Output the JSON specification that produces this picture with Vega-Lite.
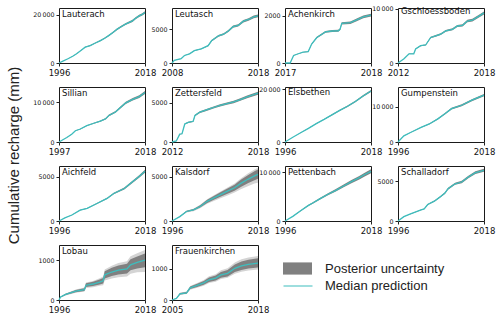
{
"$schema":"https://vega.github.io/schema/vega-lite/v6.json",
"padding":{"left":5,"top":5,"right":0,"bottom":0},
"data":{"values":[
{"s":"Lauterach","t":1996,"m":0,"lo":0,"hi":0},
{"s":"Lauterach","t":1997,"m":800,"lo":780,"hi":820},
{"s":"Lauterach","t":1998.3,"m":1780,"lo":1735,"hi":1825},
{"s":"Lauterach","t":1999.5,"m":2800,"lo":2730,"hi":2870},
{"s":"Lauterach","t":2000.5,"m":3840,"lo":3745,"hi":3935},
{"s":"Lauterach","t":2001.6,"m":5200,"lo":5070,"hi":5330},
{"s":"Lauterach","t":2002.7,"m":6580,"lo":6415,"hi":6745},
{"s":"Lauterach","t":2004,"m":7260,"lo":7080,"hi":7440},
{"s":"Lauterach","t":2005.3,"m":8300,"lo":8090,"hi":8510},
{"s":"Lauterach","t":2006.6,"m":9320,"lo":9090,"hi":9550},
{"s":"Lauterach","t":2007.7,"m":10300,"lo":10040,"hi":10560},
{"s":"Lauterach","t":2008.7,"m":11370,"lo":11085,"hi":11655},
{"s":"Lauterach","t":2009.8,"m":12700,"lo":12380,"hi":13020},
{"s":"Lauterach","t":2010.9,"m":14100,"lo":13750,"hi":14450},
{"s":"Lauterach","t":2012,"m":15200,"lo":14820,"hi":15580},
{"s":"Lauterach","t":2013,"m":16160,"lo":15760,"hi":16560},
{"s":"Lauterach","t":2014.8,"m":17530,"lo":17090,"hi":17970},
{"s":"Lauterach","t":2015.6,"m":18600,"lo":18135,"hi":19065},
{"s":"Lauterach","t":2016.5,"m":19590,"lo":19100,"hi":20080},
{"s":"Lauterach","t":2017.3,"m":20200,"lo":19695,"hi":20705},
{"s":"Lauterach","t":2018,"m":20960,"lo":20435,"hi":21485},
{"s":"Leutasch","t":2008,"m":0,"lo":0,"hi":0},
{"s":"Leutasch","t":2008.27,"m":390,"lo":378,"hi":402},
{"s":"Leutasch","t":2009.06,"m":630,"lo":611,"hi":649},
{"s":"Leutasch","t":2009.45,"m":1120,"lo":1086,"hi":1154},
{"s":"Leutasch","t":2010.04,"m":1360,"lo":1319,"hi":1401},
{"s":"Leutasch","t":2010.6,"m":1840,"lo":1785,"hi":1895},
{"s":"Leutasch","t":2011.4,"m":2090,"lo":2027,"hi":2153},
{"s":"Leutasch","t":2012.2,"m":2570,"lo":2493,"hi":2647},
{"s":"Leutasch","t":2012.6,"m":3300,"lo":3201,"hi":3399},
{"s":"Leutasch","t":2013.4,"m":4030,"lo":3909,"hi":4151},
{"s":"Leutasch","t":2014,"m":4270,"lo":4142,"hi":4398},
{"s":"Leutasch","t":2014.55,"m":4760,"lo":4617,"hi":4903},
{"s":"Leutasch","t":2015.1,"m":5390,"lo":5228,"hi":5552},
{"s":"Leutasch","t":2015.7,"m":5580,"lo":5413,"hi":5747},
{"s":"Leutasch","t":2016.3,"m":6210,"lo":6024,"hi":6396},
{"s":"Leutasch","t":2016.9,"m":6460,"lo":6266,"hi":6654},
{"s":"Leutasch","t":2017.5,"m":6850,"lo":6645,"hi":7055},
{"s":"Leutasch","t":2018,"m":7000,"lo":6790,"hi":7210},
{"s":"Achenkirch","t":2017,"m":0,"lo":0,"hi":0},
{"s":"Achenkirch","t":2017.06,"m":0,"lo":0,"hi":0},
{"s":"Achenkirch","t":2017.1,"m":320,"lo":310,"hi":330},
{"s":"Achenkirch","t":2017.155,"m":390,"lo":378,"hi":402},
{"s":"Achenkirch","t":2017.21,"m":455,"lo":441,"hi":469},
{"s":"Achenkirch","t":2017.27,"m":480,"lo":466,"hi":494},
{"s":"Achenkirch","t":2017.31,"m":800,"lo":776,"hi":824},
{"s":"Achenkirch","t":2017.37,"m":1075,"lo":1043,"hi":1107},
{"s":"Achenkirch","t":2017.43,"m":1215,"lo":1179,"hi":1251},
{"s":"Achenkirch","t":2017.47,"m":1310,"lo":1271,"hi":1349},
{"s":"Achenkirch","t":2017.55,"m":1350,"lo":1310,"hi":1390},
{"s":"Achenkirch","t":2017.62,"m":1360,"lo":1319,"hi":1401},
{"s":"Achenkirch","t":2017.64,"m":1420,"lo":1377,"hi":1463},
{"s":"Achenkirch","t":2017.66,"m":1670,"lo":1620,"hi":1720},
{"s":"Achenkirch","t":2017.76,"m":1700,"lo":1649,"hi":1751},
{"s":"Achenkirch","t":2017.84,"m":1830,"lo":1775,"hi":1885},
{"s":"Achenkirch","t":2017.91,"m":1945,"lo":1887,"hi":2003},
{"s":"Achenkirch","t":2018,"m":2020,"lo":1959,"hi":2081},
{"s":"Gschloessboden","t":2012,"m":0,"lo":0,"hi":0},
{"s":"Gschloessboden","t":2012.42,"m":790,"lo":766,"hi":814},
{"s":"Gschloessboden","t":2012.77,"m":1700,"lo":1649,"hi":1751},
{"s":"Gschloessboden","t":2013.1,"m":1700,"lo":1649,"hi":1751},
{"s":"Gschloessboden","t":2013.23,"m":2600,"lo":2522,"hi":2678},
{"s":"Gschloessboden","t":2013.58,"m":3200,"lo":3104,"hi":3296},
{"s":"Gschloessboden","t":2013.93,"m":3330,"lo":3230,"hi":3430},
{"s":"Gschloessboden","t":2014.28,"m":4730,"lo":4588,"hi":4872},
{"s":"Gschloessboden","t":2014.63,"m":5030,"lo":4879,"hi":5181},
{"s":"Gschloessboden","t":2014.98,"m":5330,"lo":5170,"hi":5490},
{"s":"Gschloessboden","t":2015.33,"m":5940,"lo":5762,"hi":6118},
{"s":"Gschloessboden","t":2015.8,"m":6240,"lo":6053,"hi":6427},
{"s":"Gschloessboden","t":2016.14,"m":6850,"lo":6645,"hi":7055},
{"s":"Gschloessboden","t":2016.5,"m":6970,"lo":6761,"hi":7179},
{"s":"Gschloessboden","t":2016.84,"m":7760,"lo":7527,"hi":7993},
{"s":"Gschloessboden","t":2017.19,"m":7940,"lo":7702,"hi":8178},
{"s":"Gschloessboden","t":2017.65,"m":8670,"lo":8410,"hi":8930},
{"s":"Gschloessboden","t":2018,"m":9270,"lo":8992,"hi":9548},
{"s":"Sillian","t":1997,"m":0,"lo":0,"hi":0},
{"s":"Sillian","t":1998.9,"m":1120,"lo":1086,"hi":1154},
{"s":"Sillian","t":2000.1,"m":1980,"lo":1921,"hi":2039},
{"s":"Sillian","t":2001,"m":2850,"lo":2765,"hi":2935},
{"s":"Sillian","t":2002.2,"m":3280,"lo":3182,"hi":3378},
{"s":"Sillian","t":2003.8,"m":4140,"lo":4016,"hi":4264},
{"s":"Sillian","t":2005.5,"m":4740,"lo":4598,"hi":4882},
{"s":"Sillian","t":2007.1,"m":5260,"lo":5102,"hi":5418},
{"s":"Sillian","t":2008.4,"m":5860,"lo":5684,"hi":6036},
{"s":"Sillian","t":2009.2,"m":6720,"lo":6518,"hi":6922},
{"s":"Sillian","t":2010.8,"m":7590,"lo":7362,"hi":7818},
{"s":"Sillian","t":2012,"m":8700,"lo":8439,"hi":8961},
{"s":"Sillian","t":2013.3,"m":9900,"lo":9603,"hi":10197},
{"s":"Sillian","t":2015,"m":10780,"lo":10457,"hi":11103},
{"s":"Sillian","t":2016.6,"m":11470,"lo":11126,"hi":11814},
{"s":"Sillian","t":2018,"m":12500,"lo":12125,"hi":12875},
{"s":"Zettersfeld","t":2012,"m":0,"lo":0,"hi":0},
{"s":"Zettersfeld","t":2012.3,"m":130,"lo":126,"hi":134},
{"s":"Zettersfeld","t":2012.54,"m":1000,"lo":970,"hi":1030},
{"s":"Zettersfeld","t":2012.7,"m":1050,"lo":1019,"hi":1081},
{"s":"Zettersfeld","t":2012.89,"m":2300,"lo":2231,"hi":2369},
{"s":"Zettersfeld","t":2013.13,"m":2520,"lo":2444,"hi":2596},
{"s":"Zettersfeld","t":2013.48,"m":2650,"lo":2571,"hi":2730},
{"s":"Zettersfeld","t":2013.6,"m":3390,"lo":3288,"hi":3492},
{"s":"Zettersfeld","t":2013.95,"m":3830,"lo":3715,"hi":3945},
{"s":"Zettersfeld","t":2014.3,"m":4040,"lo":3919,"hi":4161},
{"s":"Zettersfeld","t":2014.65,"m":4260,"lo":4132,"hi":4388},
{"s":"Zettersfeld","t":2015,"m":4480,"lo":4346,"hi":4614},
{"s":"Zettersfeld","t":2015.36,"m":4700,"lo":4559,"hi":4841},
{"s":"Zettersfeld","t":2015.83,"m":4910,"lo":4763,"hi":5057},
{"s":"Zettersfeld","t":2016.3,"m":5130,"lo":4976,"hi":5284},
{"s":"Zettersfeld","t":2016.77,"m":5430,"lo":5267,"hi":5593},
{"s":"Zettersfeld","t":2017.24,"m":5780,"lo":5607,"hi":5953},
{"s":"Zettersfeld","t":2018,"m":6250,"lo":6063,"hi":6438},
{"s":"Elsbethen","t":1996,"m":0,"lo":0,"hi":0},
{"s":"Elsbethen","t":1998,"m":1800,"lo":1764,"hi":1836},
{"s":"Elsbethen","t":2000,"m":3500,"lo":3430,"hi":3570},
{"s":"Elsbethen","t":2002,"m":5200,"lo":5096,"hi":5304},
{"s":"Elsbethen","t":2004,"m":7000,"lo":6860,"hi":7140},
{"s":"Elsbethen","t":2006,"m":8600,"lo":8428,"hi":8772},
{"s":"Elsbethen","t":2008,"m":10300,"lo":10094,"hi":10506},
{"s":"Elsbethen","t":2010,"m":12000,"lo":11760,"hi":12240},
{"s":"Elsbethen","t":2012,"m":13600,"lo":13328,"hi":13872},
{"s":"Elsbethen","t":2014,"m":15400,"lo":15092,"hi":15708},
{"s":"Elsbethen","t":2016,"m":17500,"lo":17150,"hi":17850},
{"s":"Elsbethen","t":2018,"m":19400,"lo":19012,"hi":19788},
{"s":"Gumpenstein","t":1996,"m":0,"lo":0,"hi":0},
{"s":"Gumpenstein","t":1997.5,"m":1750,"lo":1706,"hi":1794},
{"s":"Gumpenstein","t":1999.2,"m":2720,"lo":2652,"hi":2788},
{"s":"Gumpenstein","t":2001.9,"m":4170,"lo":4066,"hi":4274},
{"s":"Gumpenstein","t":2004,"m":5150,"lo":5021,"hi":5279},
{"s":"Gumpenstein","t":2006.2,"m":6600,"lo":6435,"hi":6765},
{"s":"Gumpenstein","t":2008,"m":8060,"lo":7859,"hi":8261},
{"s":"Gumpenstein","t":2009.7,"m":9510,"lo":9272,"hi":9748},
{"s":"Gumpenstein","t":2012.3,"m":10490,"lo":10228,"hi":10752},
{"s":"Gumpenstein","t":2014.9,"m":11940,"lo":11642,"hi":12238},
{"s":"Gumpenstein","t":2018,"m":13400,"lo":13065,"hi":13735},
{"s":"Aichfeld","t":1996,"m":0,"lo":0,"hi":0},
{"s":"Aichfeld","t":1997.5,"m":350,"lo":340,"hi":360},
{"s":"Aichfeld","t":1999.3,"m":680,"lo":660,"hi":700},
{"s":"Aichfeld","t":2001.4,"m":1240,"lo":1203,"hi":1277},
{"s":"Aichfeld","t":2003.2,"m":1430,"lo":1387,"hi":1473},
{"s":"Aichfeld","t":2005.7,"m":1990,"lo":1930,"hi":2050},
{"s":"Aichfeld","t":2008.3,"m":2560,"lo":2483,"hi":2637},
{"s":"Aichfeld","t":2010,"m":3120,"lo":3026,"hi":3214},
{"s":"Aichfeld","t":2012.7,"m":3680,"lo":3570,"hi":3790},
{"s":"Aichfeld","t":2014.8,"m":4440,"lo":4307,"hi":4573},
{"s":"Aichfeld","t":2016.5,"m":5050,"lo":4899,"hi":5202},
{"s":"Aichfeld","t":2018,"m":5650,"lo":5481,"hi":5820},
{"s":"Kalsdorf","t":1996,"m":0,"lo":0,"hi":0,"l2":0,"h2":0},
{"s":"Kalsdorf","t":1998,"m":500,"lo":470,"hi":530,"l2":450,"h2":540},
{"s":"Kalsdorf","t":1999.7,"m":1080,"lo":1010,"hi":1150,"l2":970,"h2":1170},
{"s":"Kalsdorf","t":2001.5,"m":1270,"lo":1180,"hi":1370,"l2":1120,"h2":1400},
{"s":"Kalsdorf","t":2003.2,"m":1650,"lo":1520,"hi":1780,"l2":1450,"h2":1830},
{"s":"Kalsdorf","t":2005,"m":2230,"lo":2050,"hi":2420,"l2":1950,"h2":2480},
{"s":"Kalsdorf","t":2006.7,"m":2620,"lo":2400,"hi":2850,"l2":2280,"h2":2920},
{"s":"Kalsdorf","t":2008.4,"m":3000,"lo":2740,"hi":3270,"l2":2590,"h2":3360},
{"s":"Kalsdorf","t":2010.2,"m":3380,"lo":3080,"hi":3690,"l2":2900,"h2":3800},
{"s":"Kalsdorf","t":2012,"m":3770,"lo":3430,"hi":4120,"l2":3220,"h2":4250},
{"s":"Kalsdorf","t":2013.6,"m":4270,"lo":3870,"hi":4680,"l2":3600,"h2":4830},
{"s":"Kalsdorf","t":2015.4,"m":4730,"lo":4270,"hi":5200,"l2":3950,"h2":5380},
{"s":"Kalsdorf","t":2017.1,"m":5120,"lo":4620,"hi":5640,"l2":4250,"h2":5850},
{"s":"Kalsdorf","t":2018,"m":5300,"lo":4780,"hi":5850,"l2":4350,"h2":6050},
{"s":"Pettenbach","t":1996,"m":0,"lo":0,"hi":0},
{"s":"Pettenbach","t":1998,"m":950,"lo":912,"hi":988},
{"s":"Pettenbach","t":2000,"m":2100,"lo":2016,"hi":2184},
{"s":"Pettenbach","t":2002,"m":3200,"lo":3072,"hi":3328},
{"s":"Pettenbach","t":2003,"m":3650,"lo":3504,"hi":3796},
{"s":"Pettenbach","t":2005,"m":4600,"lo":4416,"hi":4784},
{"s":"Pettenbach","t":2007,"m":5500,"lo":5280,"hi":5720},
{"s":"Pettenbach","t":2009,"m":6300,"lo":6048,"hi":6552},
{"s":"Pettenbach","t":2011,"m":7200,"lo":6912,"hi":7488},
{"s":"Pettenbach","t":2013,"m":8100,"lo":7776,"hi":8424},
{"s":"Pettenbach","t":2015,"m":8900,"lo":8544,"hi":9256},
{"s":"Pettenbach","t":2016.5,"m":9600,"lo":9216,"hi":9984},
{"s":"Pettenbach","t":2018,"m":10200,"lo":9792,"hi":10608},
{"s":"Schalladorf","t":1996,"m":0,"lo":0,"hi":0},
{"s":"Schalladorf","t":1997.5,"m":550,"lo":534,"hi":567},
{"s":"Schalladorf","t":1999.2,"m":890,"lo":863,"hi":917},
{"s":"Schalladorf","t":2001.9,"m":1400,"lo":1358,"hi":1442},
{"s":"Schalladorf","t":2002.7,"m":1530,"lo":1484,"hi":1576},
{"s":"Schalladorf","t":2003.6,"m":2080,"lo":2018,"hi":2142},
{"s":"Schalladorf","t":2005.3,"m":2500,"lo":2425,"hi":2575},
{"s":"Schalladorf","t":2006.7,"m":3010,"lo":2920,"hi":3100},
{"s":"Schalladorf","t":2008,"m":3520,"lo":3414,"hi":3626},
{"s":"Schalladorf","t":2008.8,"m":4070,"lo":3948,"hi":4192},
{"s":"Schalladorf","t":2010.6,"m":4700,"lo":4559,"hi":4841},
{"s":"Schalladorf","t":2012.3,"m":4920,"lo":4772,"hi":5068},
{"s":"Schalladorf","t":2014,"m":5550,"lo":5384,"hi":5717},
{"s":"Schalladorf","t":2015.8,"m":6100,"lo":5917,"hi":6283},
{"s":"Schalladorf","t":2018,"m":6400,"lo":6208,"hi":6592},
{"s":"Lobau","t":1996,"m":0,"lo":0,"hi":0,"l2":0,"h2":0},
{"s":"Lobau","t":1996.4,"m":74,"lo":65,"hi":84,"l2":60,"h2":88},
{"s":"Lobau","t":1997.7,"m":140,"lo":125,"hi":158,"l2":115,"h2":165},
{"s":"Lobau","t":2000.3,"m":220,"lo":195,"hi":248,"l2":180,"h2":260},
{"s":"Lobau","t":2002.5,"m":260,"lo":228,"hi":295,"l2":210,"h2":310},
{"s":"Lobau","t":2002.9,"m":370,"lo":325,"hi":420,"l2":300,"h2":440},
{"s":"Lobau","t":2004.7,"m":400,"lo":350,"hi":455,"l2":320,"h2":478},
{"s":"Lobau","t":2006.4,"m":450,"lo":390,"hi":515,"l2":355,"h2":545},
{"s":"Lobau","t":2007.3,"m":480,"lo":412,"hi":550,"l2":372,"h2":585},
{"s":"Lobau","t":2007.7,"m":630,"lo":540,"hi":720,"l2":485,"h2":765},
{"s":"Lobau","t":2009.5,"m":700,"lo":598,"hi":805,"l2":535,"h2":860},
{"s":"Lobau","t":2011.2,"m":750,"lo":638,"hi":865,"l2":570,"h2":925},
{"s":"Lobau","t":2013.4,"m":780,"lo":660,"hi":905,"l2":585,"h2":970},
{"s":"Lobau","t":2014.3,"m":880,"lo":742,"hi":1020,"l2":655,"h2":1095},
{"s":"Lobau","t":2016,"m":940,"lo":790,"hi":1090,"l2":695,"h2":1170},
{"s":"Lobau","t":2018,"m":1000,"lo":820,"hi":1165,"l2":700,"h2":1250},
{"s":"Frauenkirchen","t":2005,"m":0,"lo":0,"hi":0,"l2":0,"h2":0},
{"s":"Frauenkirchen","t":2005.67,"m":53,"lo":45,"hi":60,"l2":40,"h2":65},
{"s":"Frauenkirchen","t":2006.2,"m":200,"lo":180,"hi":222,"l2":170,"h2":232},
{"s":"Frauenkirchen","t":2007.2,"m":230,"lo":205,"hi":256,"l2":192,"h2":270},
{"s":"Frauenkirchen","t":2007.75,"m":390,"lo":350,"hi":432,"l2":330,"h2":452},
{"s":"Frauenkirchen","t":2008.8,"m":470,"lo":420,"hi":522,"l2":395,"h2":550},
{"s":"Frauenkirchen","t":2009.8,"m":550,"lo":490,"hi":612,"l2":460,"h2":645},
{"s":"Frauenkirchen","t":2010.6,"m":650,"lo":578,"hi":725,"l2":545,"h2":765},
{"s":"Frauenkirchen","t":2011.6,"m":705,"lo":625,"hi":788,"l2":588,"h2":832},
{"s":"Frauenkirchen","t":2012.4,"m":810,"lo":718,"hi":905,"l2":675,"h2":955},
{"s":"Frauenkirchen","t":2013.4,"m":860,"lo":760,"hi":962,"l2":715,"h2":1018},
{"s":"Frauenkirchen","t":2014.5,"m":1020,"lo":900,"hi":1143,"l2":845,"h2":1210},
{"s":"Frauenkirchen","t":2015.5,"m":1100,"lo":968,"hi":1235,"l2":910,"h2":1310},
{"s":"Frauenkirchen","t":2016.55,"m":1150,"lo":1010,"hi":1293,"l2":950,"h2":1370},
{"s":"Frauenkirchen","t":2018,"m":1190,"lo":1045,"hi":1340,"l2":980,"h2":1420}
]},
"columns":4,
"spacing":{"row":24,"column":27},
"bounds":"flush",
"concat":[
{"width":86,"height":55,"title":"Lauterach","transform":[{"filter":"datum.s=='Lauterach'"}],"encoding":{"x":{"field":"t","type":"quantitative","title":null,"scale":{"domain":[1996,2018],"nice":false},"axis":{"values":[1996,2018]}}},"layer":[{"mark":{"type":"area","color":"#808080"},"encoding":{"y":{"field":"lo","type":"quantitative","scale":{"domain":[0,22860],"nice":false},"axis":{"values":[0,20000],"title":"Cumulative recharge (mm)","titleAngle":-90,"titleX":-46,"titleY":147,"titleAlign":"center","titleBaseline":"middle","titleFont":"Liberation Sans","titleFontSize":15,"titleFontWeight":"normal","titleColor":"#222"}},"y2":{"field":"hi"}}},{"mark":{"type":"line","color":"#3dbdbd","strokeWidth":1.3},"encoding":{"y":{"field":"m","type":"quantitative"}}}]},
{"width":86,"height":55,"title":"Leutasch","transform":[{"filter":"datum.s=='Leutasch'"}],"encoding":{"x":{"field":"t","type":"quantitative","title":null,"scale":{"domain":[2008,2018],"nice":false},"axis":{"values":[2008,2018]}}},"layer":[{"mark":{"type":"area","color":"#808080"},"encoding":{"y":{"field":"lo","type":"quantitative","title":null,"scale":{"domain":[0,8160],"nice":false},"axis":{"values":[0,5000]}},"y2":{"field":"hi"}}},{"mark":{"type":"line","color":"#3dbdbd","strokeWidth":1.3},"encoding":{"y":{"field":"m","type":"quantitative","title":null}}}]},
{"width":86,"height":55,"title":"Achenkirch","transform":[{"filter":"datum.s=='Achenkirch'"}],"encoding":{"x":{"field":"t","type":"quantitative","title":null,"scale":{"domain":[2017,2018],"nice":false},"axis":{"values":[2017,2018]}}},"layer":[{"mark":{"type":"area","color":"#808080"},"encoding":{"y":{"field":"lo","type":"quantitative","title":null,"scale":{"domain":[0,2320],"nice":false},"axis":{"values":[0,2000]}},"y2":{"field":"hi"}}},{"mark":{"type":"line","color":"#3dbdbd","strokeWidth":1.3},"encoding":{"y":{"field":"m","type":"quantitative","title":null}}}]},
{"width":86,"height":55,"title":"Gschloessboden","transform":[{"filter":"datum.s=='Gschloessboden'"}],"encoding":{"x":{"field":"t","type":"quantitative","title":null,"scale":{"domain":[2012,2018],"nice":false},"axis":{"values":[2012,2018]}}},"layer":[{"mark":{"type":"area","color":"#808080"},"encoding":{"y":{"field":"lo","type":"quantitative","title":null,"scale":{"domain":[0,10180],"nice":false},"axis":{"values":[0,10000]}},"y2":{"field":"hi"}}},{"mark":{"type":"line","color":"#3dbdbd","strokeWidth":1.3},"encoding":{"y":{"field":"m","type":"quantitative","title":null}}}]},
{"width":86,"height":55,"title":"Sillian","transform":[{"filter":"datum.s=='Sillian'"}],"encoding":{"x":{"field":"t","type":"quantitative","title":null,"scale":{"domain":[1997,2018],"nice":false},"axis":{"values":[1997,2018]}}},"layer":[{"mark":{"type":"area","color":"#808080"},"encoding":{"y":{"field":"lo","type":"quantitative","title":null,"scale":{"domain":[0,13900],"nice":false},"axis":{"values":[0,10000]}},"y2":{"field":"hi"}}},{"mark":{"type":"line","color":"#3dbdbd","strokeWidth":1.3},"encoding":{"y":{"field":"m","type":"quantitative","title":null}}}]},
{"width":86,"height":55,"title":"Zettersfeld","transform":[{"filter":"datum.s=='Zettersfeld'"}],"encoding":{"x":{"field":"t","type":"quantitative","title":null,"scale":{"domain":[2012,2018],"nice":false},"axis":{"values":[2012,2018]}}},"layer":[{"mark":{"type":"area","color":"#808080"},"encoding":{"y":{"field":"lo","type":"quantitative","title":null,"scale":{"domain":[0,7040],"nice":false},"axis":{"values":[0,5000]}},"y2":{"field":"hi"}}},{"mark":{"type":"line","color":"#3dbdbd","strokeWidth":1.3},"encoding":{"y":{"field":"m","type":"quantitative","title":null}}}]},
{"width":86,"height":55,"title":"Elsbethen","transform":[{"filter":"datum.s=='Elsbethen'"}],"encoding":{"x":{"field":"t","type":"quantitative","title":null,"scale":{"domain":[1996,2018],"nice":false},"axis":{"values":[1996,2018]}}},"layer":[{"mark":{"type":"area","color":"#808080"},"encoding":{"y":{"field":"lo","type":"quantitative","title":null,"scale":{"domain":[0,20900],"nice":false},"axis":{"values":[0,20000]}},"y2":{"field":"hi"}}},{"mark":{"type":"line","color":"#3dbdbd","strokeWidth":1.3},"encoding":{"y":{"field":"m","type":"quantitative","title":null}}}]},
{"width":86,"height":55,"title":"Gumpenstein","transform":[{"filter":"datum.s=='Gumpenstein'"}],"encoding":{"x":{"field":"t","type":"quantitative","title":null,"scale":{"domain":[1996,2018],"nice":false},"axis":{"values":[1996,2018]}}},"layer":[{"mark":{"type":"area","color":"#808080"},"encoding":{"y":{"field":"lo","type":"quantitative","title":null,"scale":{"domain":[0,15700],"nice":false},"axis":{"values":[0,10000]}},"y2":{"field":"hi"}}},{"mark":{"type":"line","color":"#3dbdbd","strokeWidth":1.3},"encoding":{"y":{"field":"m","type":"quantitative","title":null}}}]},
{"width":86,"height":55,"title":"Aichfeld","transform":[{"filter":"datum.s=='Aichfeld'"}],"encoding":{"x":{"field":"t","type":"quantitative","title":null,"scale":{"domain":[1996,2018],"nice":false},"axis":{"values":[1996,2018]}}},"layer":[{"mark":{"type":"area","color":"#808080"},"encoding":{"y":{"field":"lo","type":"quantitative","title":null,"scale":{"domain":[0,6240],"nice":false},"axis":{"values":[0,5000]}},"y2":{"field":"hi"}}},{"mark":{"type":"line","color":"#3dbdbd","strokeWidth":1.3},"encoding":{"y":{"field":"m","type":"quantitative","title":null}}}]},
{"width":86,"height":55,"title":"Kalsdorf","transform":[{"filter":"datum.s=='Kalsdorf'"}],"encoding":{"x":{"field":"t","type":"quantitative","title":null,"scale":{"domain":[1996,2018],"nice":false},"axis":{"values":[1996,2018]}}},"layer":[{"mark":{"type":"area","color":"#d4d4d4"},"encoding":{"y":{"field":"l2","type":"quantitative","title":null,"scale":{"domain":[0,6240],"nice":false},"axis":{"values":[0,5000]}},"y2":{"field":"h2"}}},{"mark":{"type":"area","color":"#808080"},"encoding":{"y":{"field":"lo","type":"quantitative","title":null},"y2":{"field":"hi"}}},{"mark":{"type":"line","color":"#3dbdbd","strokeWidth":1.3},"encoding":{"y":{"field":"m","type":"quantitative","title":null}}}]},
{"width":86,"height":55,"title":"Pettenbach","transform":[{"filter":"datum.s=='Pettenbach'"}],"encoding":{"x":{"field":"t","type":"quantitative","title":null,"scale":{"domain":[1996,2018],"nice":false},"axis":{"values":[1996,2018]}}},"layer":[{"mark":{"type":"area","color":"#808080"},"encoding":{"y":{"field":"lo","type":"quantitative","title":null,"scale":{"domain":[0,11300],"nice":false},"axis":{"values":[0,10000]}},"y2":{"field":"hi"}}},{"mark":{"type":"line","color":"#3dbdbd","strokeWidth":1.3},"encoding":{"y":{"field":"m","type":"quantitative","title":null}}}]},
{"width":86,"height":55,"title":"Schalladorf","transform":[{"filter":"datum.s=='Schalladorf'"}],"encoding":{"x":{"field":"t","type":"quantitative","title":null,"scale":{"domain":[1996,2018],"nice":false},"axis":{"values":[1996,2018]}}},"layer":[{"mark":{"type":"area","color":"#808080"},"encoding":{"y":{"field":"lo","type":"quantitative","title":null,"scale":{"domain":[0,6940],"nice":false},"axis":{"values":[0,5000]}},"y2":{"field":"hi"}}},{"mark":{"type":"line","color":"#3dbdbd","strokeWidth":1.3},"encoding":{"y":{"field":"m","type":"quantitative","title":null}}}]},
{"width":86,"height":55,"title":"Lobau","transform":[{"filter":"datum.s=='Lobau'"}],"encoding":{"x":{"field":"t","type":"quantitative","title":null,"scale":{"domain":[1996,2018],"nice":false},"axis":{"values":[1996,2018]}}},"layer":[{"mark":{"type":"area","color":"#d4d4d4"},"encoding":{"y":{"field":"l2","type":"quantitative","title":null,"scale":{"domain":[0,1376],"nice":false},"axis":{"values":[0,1000]}},"y2":{"field":"h2"}}},{"mark":{"type":"area","color":"#808080"},"encoding":{"y":{"field":"lo","type":"quantitative","title":null},"y2":{"field":"hi"}}},{"mark":{"type":"line","color":"#3dbdbd","strokeWidth":1.3},"encoding":{"y":{"field":"m","type":"quantitative","title":null}}}]},
{"width":86,"height":55,"title":"Frauenkirchen","transform":[{"filter":"datum.s=='Frauenkirchen'"}],"encoding":{"x":{"field":"t","type":"quantitative","title":null,"scale":{"domain":[2005,2018],"nice":false},"axis":{"values":[2005,2018]}}},"layer":[{"mark":{"type":"area","color":"#d4d4d4"},"encoding":{"y":{"field":"l2","type":"quantitative","title":null,"scale":{"domain":[0,1770],"nice":false},"axis":{"values":[0,1000]}},"y2":{"field":"h2"}}},{"mark":{"type":"area"},"encoding":{"y":{"field":"lo","type":"quantitative","title":null},"y2":{"field":"hi"},"fill":{"datum":"Posterior uncertainty","type":"nominal","scale":{"range":["#808080"]},"legend":{"title":null,"orient":"none","legendX":224,"legendY":246,"symbolType":"M-1,-0.42H1V0.42H-1Z","symbolSize":841,"symbolOpacity":1,"symbolStrokeWidth":0,"labelFontSize":13,"labelFont":"Liberation Sans","labelColor":"#222","labelOffset":13}}}},{"mark":{"type":"line","strokeWidth":1.3},"encoding":{"y":{"field":"m","type":"quantitative","title":null},"stroke":{"datum":"Median prediction","type":"nominal","scale":{"range":["#3dbdbd"]},"legend":{"title":null,"orient":"none","legendX":224,"legendY":263,"symbolType":"stroke","symbolSize":841,"symbolStrokeWidth":1,"labelFontSize":13,"labelFont":"Liberation Sans","labelColor":"#222","labelOffset":12}}}}]}
],
"config":{
"view":{"stroke":"#1a1a1a","strokeWidth":1},
"title":{"anchor":"start","frame":"group","offset":-10,"dx":3,"fontSize":8.5,"font":"DejaVu Sans","fontWeight":"normal","color":"#111"},
"axis":{"grid":false,"domain":false,"tickSize":3,"tickColor":"#222","labelColor":"#111","labelFont":"DejaVu Sans"},
"axisX":{"labelFontSize":8.5,"format":"d","labelPadding":2,"labelFlush":false,"labelOverlap":false},
"axisY":{"labelFontSize":6.3,"labelPadding":2,"labelExpr":"datum.value >= 10000 ? replace(format(datum.value, ','), ',', '\u2009') : format(datum.value, 'd')"}
}
}
